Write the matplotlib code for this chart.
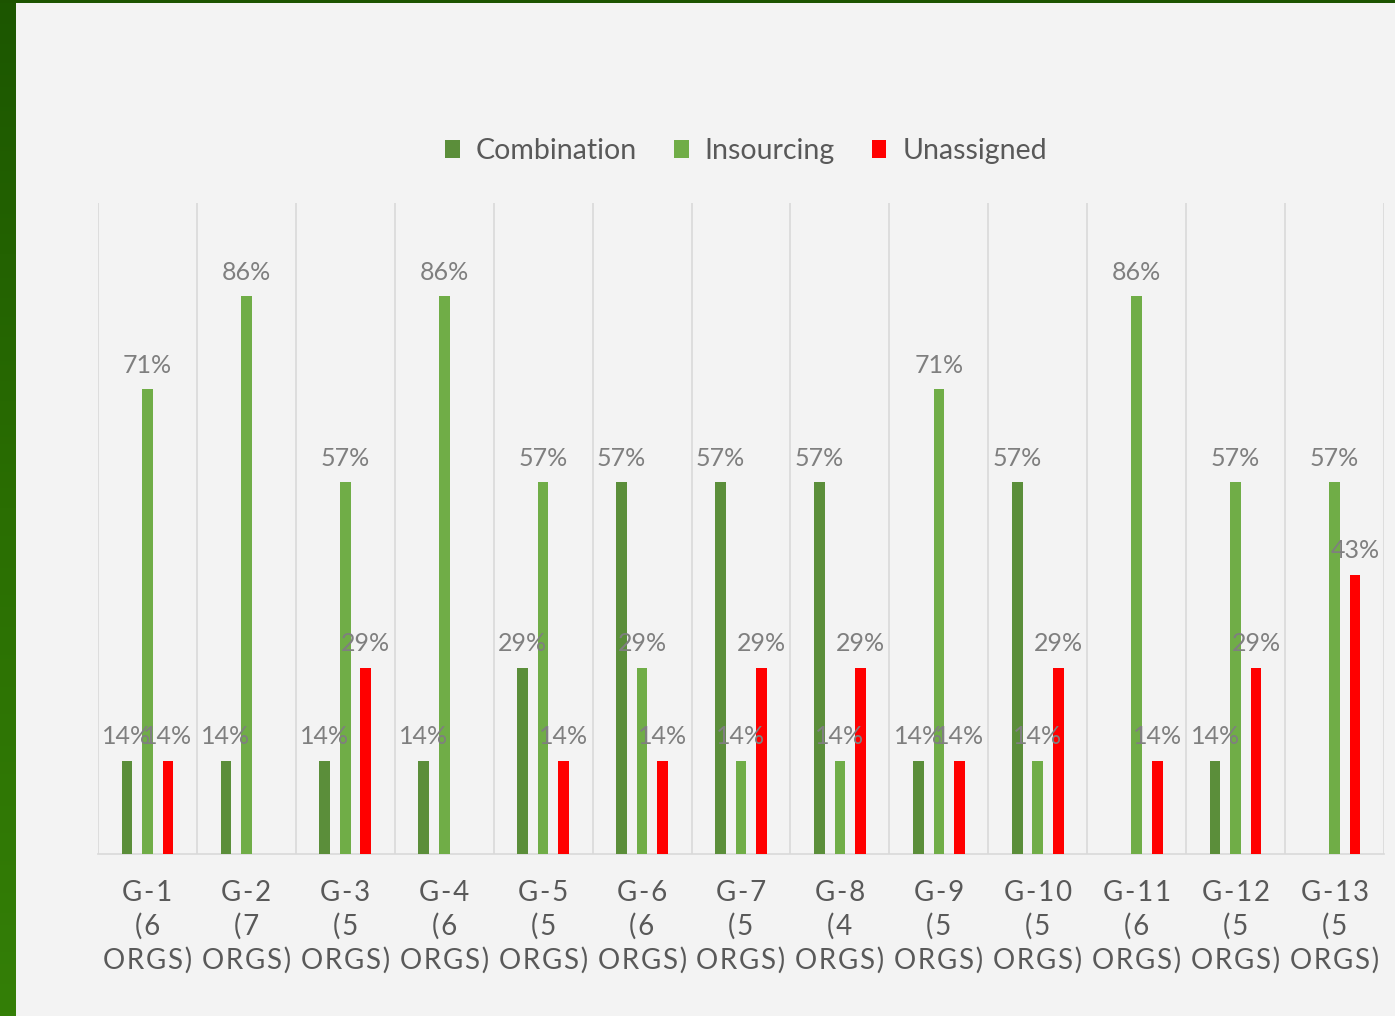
import numpy as np
import matplotlib.pyplot as plt
from matplotlib.colors import LinearSegmentedColormap

# data (percent of orgs per group)
groups = ['G-1\n(6\nORGS)', 'G-2\n(7\nORGS)', 'G-3\n(5\nORGS)', 'G-4\n(6\nORGS)',
          'G-5\n(5\nORGS)', 'G-6\n(6\nORGS)', 'G-7\n(5\nORGS)', 'G-8\n(4\nORGS)',
          'G-9\n(5\nORGS)', 'G-10\n(5\nORGS)', 'G-11\n(6\nORGS)', 'G-12\n(5\nORGS)',
          'G-13\n(5\nORGS)']
combination = [14.3, 14.3, 14.3, 14.3, 28.6, 57.1, 57.1, 57.1, 14.3, 57.1, 0, 14.3, 0]
insourcing = [71.4, 85.7, 57.1, 85.7, 57.1, 28.6, 14.3, 14.3, 71.4, 14.3, 85.7, 57.1, 57.1]
unassigned = [14.3, 0, 28.6, 0, 14.3, 14.3, 28.6, 28.6, 14.3, 28.6, 14.3, 28.6, 42.9]

series = [('Combination', combination, '#5b8e3a'),
          ('Insourcing', insourcing, '#70ad47'),
          ('Unassigned', unassigned, '#ff0000')]

plt.rcParams['font.family'] = ['Lato', 'DejaVu Sans']

fig = plt.figure(figsize=(13.95, 10.16), dpi=100, facecolor='#f3f3f3')

# green frame on the left and top edges
grad = np.linspace(0, 1, 256).reshape(-1, 1)
cmap = LinearSegmentedColormap.from_list('frame', ['#1c5600', '#2a6e02', '#347f07'])
side = fig.add_axes([0, 0, 15 / 1395, 1])
side.imshow(grad, aspect='auto', cmap=cmap, extent=[0, 1, 1, 0])
side.set_ylim(1, 0)
side.axis('off')
top = fig.add_axes([0, 1 - 3 / 1016, 1, 3 / 1016])
top.set_facecolor('#1c5400')
top.set_xticks([])
top.set_yticks([])
for s in top.spines.values():
    s.set_visible(False)

ax = fig.add_axes([98 / 1395, 162 / 1016, 1286 / 1395, 651 / 1016])
ax.set_facecolor('#f3f3f3')

x = np.arange(len(groups))
width = 0.108
offsets = [-0.207, 0, 0.207]
for (name, vals, color), off in zip(series, offsets):
    bars = ax.bar(x + off, vals, width, color=color, label=name, zorder=3)
    labels = ['%d%%' % round(v) if v > 0 else '' for v in vals]
    ax.bar_label(bars, labels=labels, padding=9, fontsize=18, color='#7f7f7f', zorder=4)

# spread the letters a little, like the wide tracking of the original labels
spaced = ['\n'.join('\u200a'.join(line) for line in g.split('\n')) for g in groups]

ax.set_xlim(-0.5, len(groups) - 0.5)
ax.set_ylim(0, 100)
ax.set_yticks([])
ax.set_xticks(x, spaced)
ax.tick_params(axis='x', length=0, pad=19, labelsize=20, labelcolor='#595959')
for lab in ax.get_xticklabels():
    lab.set_linespacing(1.3)
ax.set_xticks(np.arange(-0.5, len(groups)), minor=True)
ax.tick_params(axis='x', which='minor', length=0)
ax.grid(True, which='minor', axis='x', color='#d9d9d9', linewidth=1.2, zorder=0)
for s in ['top', 'left', 'right']:
    ax.spines[s].set_visible(False)
ax.spines['bottom'].set_color('#d9d9d9')
ax.spines['bottom'].set_linewidth(1.2)

leg = fig.legend(loc='center', bbox_to_anchor=(746 / 1395, 1 - 151 / 1016), ncol=3,
                 frameon=False, fontsize=20.5, handlelength=0.52, handleheight=0.64,
                 handletextpad=0.55, columnspacing=1.3)
for t in leg.get_texts():
    t.set_color('#595959')

fig.savefig('out.png', dpi=100, facecolor=fig.get_facecolor())
